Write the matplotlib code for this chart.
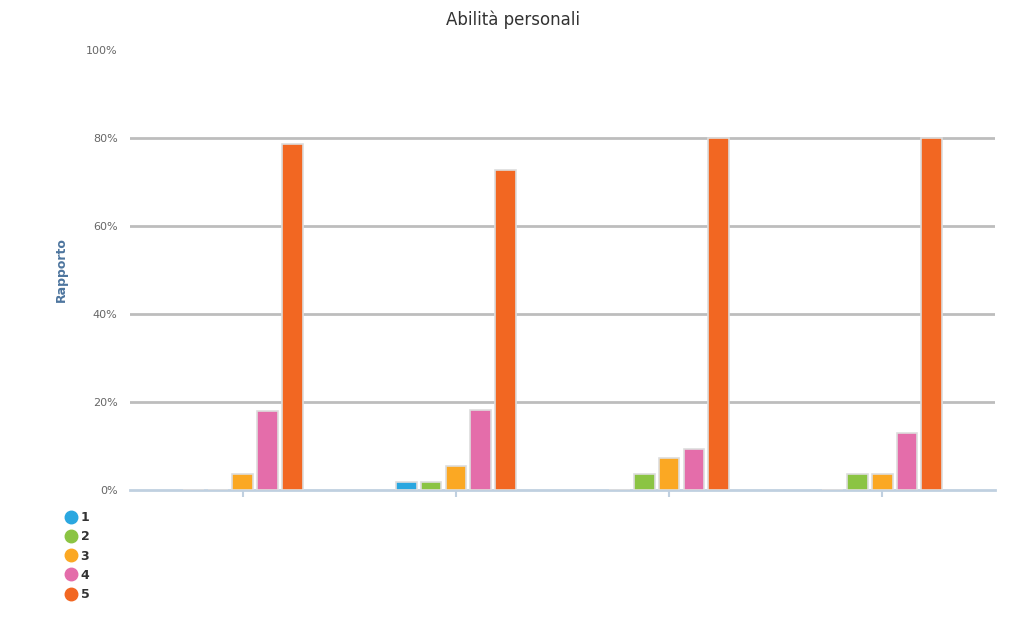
import numpy as np
import matplotlib
matplotlib.use("Agg")
import matplotlib.pyplot as plt
from matplotlib.lines import Line2D

# risposte per domanda (in %)
categories = ["", "", "", ""]
series_names = ["1", "2", "3", "4", "5"]
s1 = [0, 1.8, 0, 0]
s2 = [0, 1.8, 3.6, 3.6]
s3 = [3.6, 5.5, 7.3, 3.6]
s4 = [17.9, 18.2, 9.3, 13.0]
s5 = [78.6, 72.7, 80.0, 80.0]
series = [s1, s2, s3, s4, s5]
colors = ["#2aa7e0", "#8bc443", "#fba823", "#e46daa", "#f26722"]
yticks = [0, 20, 40, 60, 80, 100]

fig = plt.figure(figsize=(10.27, 6.19), dpi=100)

ax = fig.add_axes([130 / 1027, 1 - 490 / 619, 865 / 1027, 440 / 619])

x = np.arange(len(categories))
w = 0.098
step = 0.117
for i, vals in enumerate(series):
    ax.bar(x + (i - 2) * step, vals, width=w, color=colors[i],
           edgecolor="#dddddd", linewidth=1.2, zorder=3)

ax.set_xlim(-0.53, 3.53)
ax.set_ylim(0, 100)
ax.set_yticks(yticks)
ax.set_yticklabels([f"{v}%" for v in yticks], fontsize=8, color="#666666")
ax.set_xticks(x)
ax.set_xticklabels(categories)
ax.tick_params(axis="y", length=0, pad=9)
ax.tick_params(axis="x", length=5, color="#c0d0e0", width=1.5)

for v in yticks[1:-1]:
    ax.axhline(v, color="#bdbdbd", linewidth=2, zorder=1)

for s in ["top", "right", "left"]:
    ax.spines[s].set_visible(False)
ax.spines["bottom"].set_color("#c0d0e0")
ax.spines["bottom"].set_linewidth(2)

ax.set_ylabel("Rapporto", fontsize=9, fontweight="bold", color="#4d759e")
ax.yaxis.set_label_coords(-0.072, 0.5)

fig.text(0.5, 1 - 20 / 619, "Abilità personali", ha="center", va="center",
         fontsize=12, color="#333333")

handles = [Line2D([0], [0], marker="o", linestyle="", markersize=9,
                  markerfacecolor=c, markeredgecolor=c) for c in colors]
fig.legend(handles, series_names, loc="upper left",
           bbox_to_anchor=(58 / 1027, 1 - 506 / 619), frameon=False,
           prop={"size": 9, "weight": "bold"}, labelspacing=0.5,
           handletextpad=0.2, handlelength=1.2, borderaxespad=0,
           labelcolor="#333333")

fig.savefig("out.png", dpi=100)
